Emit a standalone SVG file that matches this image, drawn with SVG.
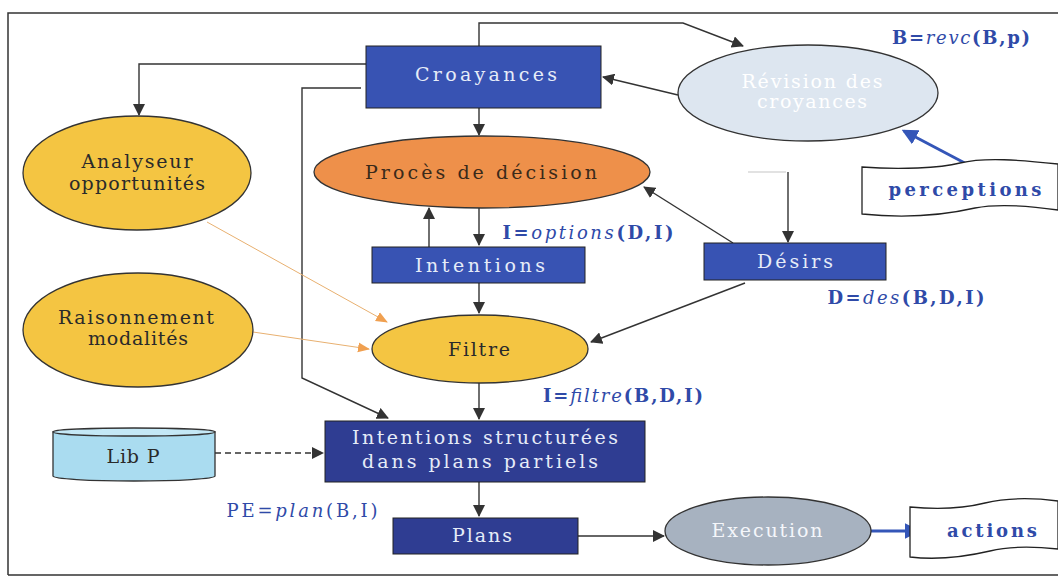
<svg xmlns="http://www.w3.org/2000/svg" width="1058" height="577" viewBox="0 0 1058 577">
<style>
text{font-family:"DejaVu Serif","Liberation Serif",serif;font-size:19px;text-anchor:middle}
.bx{fill:#3853b3;stroke:#222;stroke-width:1}
.bx2{fill:#2f3d92;stroke:#222;stroke-width:1}
.wt{fill:#e6ecf8}
.dk{fill:#2a2a2a}
.yl{fill:#f4c542;stroke:#333;stroke-width:1.3}
.lab{fill:#2f4aa8;font-weight:bold;font-size:18px}
.it{font-style:italic;font-weight:normal}
.ln{fill:none;stroke:#333;stroke-width:1.4}
.or{fill:none;stroke:#e8b070;stroke-width:1}
.bl{fill:none;stroke:#3456b8;stroke-width:3}
.fl{fill:#fff;stroke:#222;stroke-width:1.3}
</style>
<defs>
<marker id="ah" viewBox="0 0 12 12" refX="11" refY="6" markerWidth="12" markerHeight="12" markerUnits="userSpaceOnUse" orient="auto"><path d="M0,0 L12,6 L0,12 z" fill="#333"/></marker>
<marker id="ao" viewBox="0 0 12 12" refX="11" refY="6" markerWidth="12" markerHeight="12" markerUnits="userSpaceOnUse" orient="auto"><path d="M0,1 L12,6 L0,11 z" fill="#f0a050"/></marker>
<marker id="ab" viewBox="0 0 12 12" refX="10" refY="6" markerWidth="16" markerHeight="16" markerUnits="userSpaceOnUse" orient="auto"><path d="M0,0 L12,6 L0,12 z" fill="#3456b8"/></marker>
</defs>
<rect x="0" y="0" width="1058" height="577" fill="#fff"/>
<path d="M8,575 L8,13 L1058,13 M8,575 L1058,575" fill="none" stroke="#333" stroke-width="1.5"/>

<g id="connectors">
<path class="ln" d="M479,46 L479,23 L683,23 L743,46" marker-end="url(#ah)"/>
<path class="ln" d="M678,95 L603,77" marker-end="url(#ah)"/>
<path class="ln" d="M366,64 L139,64 L139,115" marker-end="url(#ah)"/>
<path class="ln" d="M361,88 L302,88 L302,378 L388,418" marker-end="url(#ah)"/>
<path class="ln" d="M479,108 L479,135" marker-end="url(#ah)"/>
<path class="ln" d="M479,208 L479,245" marker-end="url(#ah)"/>
<path class="ln" d="M429,247 L429,208" marker-end="url(#ah)"/>
<path d="M748,172 L786,172" stroke="#d8d8d8" stroke-width="1.5"/>
<path class="ln" d="M788,172 L788,242" marker-end="url(#ah)"/>
<path class="ln" d="M733,243 L644,187" marker-end="url(#ah)"/>
<path class="ln" d="M479,283 L479,313" marker-end="url(#ah)"/>
<path class="ln" d="M745,283 L591,342" marker-end="url(#ah)"/>
<path class="or" d="M207,222 L387,322" marker-end="url(#ao)"/>
<path class="or" d="M253,332 L369,349" marker-end="url(#ao)"/>
<path class="ln" d="M479,383 L479,419" marker-end="url(#ah)"/>
<path d="M215,453 L323,453" fill="none" stroke="#333" stroke-width="1.3" stroke-dasharray="6,4" marker-end="url(#ah)"/>
<path class="ln" d="M479,482 L479,516" marker-end="url(#ah)"/>
<path class="ln" d="M578,536 L664,536" marker-end="url(#ah)"/>
<path class="bl" d="M978,170 L904,131" marker-end="url(#ab)"/>
<path class="bl" d="M871,531 L918,531" marker-end="url(#ab)"/>
</g>

<g id="croyances"><rect class="bx" x="366" y="46" width="235" height="62"/><text class="wt" x="486" y="81" textLength="142" lengthAdjust="spacing">Croayances</text></g>
<g id="revision"><ellipse cx="808" cy="93" rx="130" ry="48" fill="#dde6f0" stroke="#333" stroke-width="1.3"/><text fill="#fff" x="812" y="88" textLength="141" lengthAdjust="spacing">Révision des</text><text fill="#fff" x="812" y="108" textLength="110" lengthAdjust="spacing">croyances</text></g>
<g id="proces"><ellipse cx="482" cy="172" rx="168" ry="36" fill="#ee904a" stroke="#333" stroke-width="1.3"/><text fill="#3a2a1a" x="481" y="179" textLength="232" lengthAdjust="spacing">Procès de décision</text></g>
<g id="analyseur"><ellipse cx="137" cy="173" rx="114" ry="57" class="yl"/><text class="dk" x="137" y="168" textLength="111" lengthAdjust="spacing">Analyseur</text><text class="dk" x="137" y="190" textLength="136" lengthAdjust="spacing">opportunités</text></g>
<g id="intentions"><rect class="bx" x="372" y="247" width="213" height="36"/><text class="wt" x="480" y="272" textLength="130" lengthAdjust="spacing">Intentions</text></g>
<g id="desirs"><rect class="bx" x="704" y="243" width="182" height="37"/><text class="wt" x="795" y="268" textLength="76" lengthAdjust="spacing">Désirs</text></g>
<g id="raisonnement"><ellipse cx="138" cy="330" rx="115" ry="57" class="yl"/><text class="dk" x="136" y="324" textLength="156" lengthAdjust="spacing">Raisonnement</text><text class="dk" x="138" y="345" textLength="100" lengthAdjust="spacing">modalités</text></g>
<g id="filtre"><ellipse cx="480" cy="349" rx="108" ry="34" class="yl"/><text class="dk" x="479" y="356" textLength="62" lengthAdjust="spacing">Filtre</text></g>
<g id="intstruct"><rect class="bx2" x="325" y="421" width="320" height="61"/><text class="wt" x="485" y="444" textLength="266" lengthAdjust="spacing">Intentions structurées</text><text class="wt" x="480" y="468" textLength="236" lengthAdjust="spacing">dans plans partiels</text></g>
<g id="libp"><path d="M53,432 L53,476 A81,5 0 0 0 215,476 L215,432 Z" fill="#aadcf0" stroke="#333" stroke-width="1.3"/><ellipse cx="134" cy="432" rx="81" ry="4" fill="#c4e8f6" stroke="#333" stroke-width="1.3"/><text class="dk" x="133" y="463" textLength="53" lengthAdjust="spacing">Lib P</text></g>
<g id="plans"><rect class="bx2" x="393" y="518" width="185" height="36"/><text class="wt" x="482" y="542" textLength="60" lengthAdjust="spacing">Plans</text></g>
<g id="execution"><ellipse cx="768" cy="531" rx="103" ry="34" fill="#a7b2c0" stroke="#333" stroke-width="1.3"/><text fill="#f4f6fa" x="767" y="537" textLength="111" lengthAdjust="spacing">Execution</text></g>
<g id="perceptions"><path class="fl" d="M862,214 L862,167 C900,170 940,168 960,163 C985,157 1020,160 1058,164 L1058,210 C1030,206 1000,203 975,208 C940,216 900,218 862,214 Z"/><text class="lab" x="965" y="196" textLength="153" lengthAdjust="spacing">perceptions</text></g>
<g id="actions"><path class="fl" d="M910,557 L910,507 C940,510 965,508 985,503 C1010,497 1035,498 1058,501 L1058,549 C1030,546 1010,546 990,551 C960,558 935,560 910,557 Z"/><text class="lab" x="992" y="537" textLength="90" lengthAdjust="spacing">actions</text></g>

<g id="labels">
<text class="lab" x="961" y="44" textLength="138" lengthAdjust="spacing">B=<tspan class="it">revc</tspan>(B,p)</text>
<text class="lab" x="588" y="239" textLength="171" lengthAdjust="spacing">I=<tspan class="it">options</tspan>(D,I)</text>
<text class="lab" x="906" y="304" textLength="157" lengthAdjust="spacing">D=<tspan class="it">des</tspan>(B,D,I)</text>
<text class="lab" x="623" y="402" textLength="160" lengthAdjust="spacing">I=<tspan class="it">filtre</tspan>(B,D,I)</text>
<text class="lab" x="302" y="517" textLength="151" lengthAdjust="spacing" style="font-weight:normal">PE=<tspan class="it">plan</tspan>(B,I)</text>
</g>
</svg>
